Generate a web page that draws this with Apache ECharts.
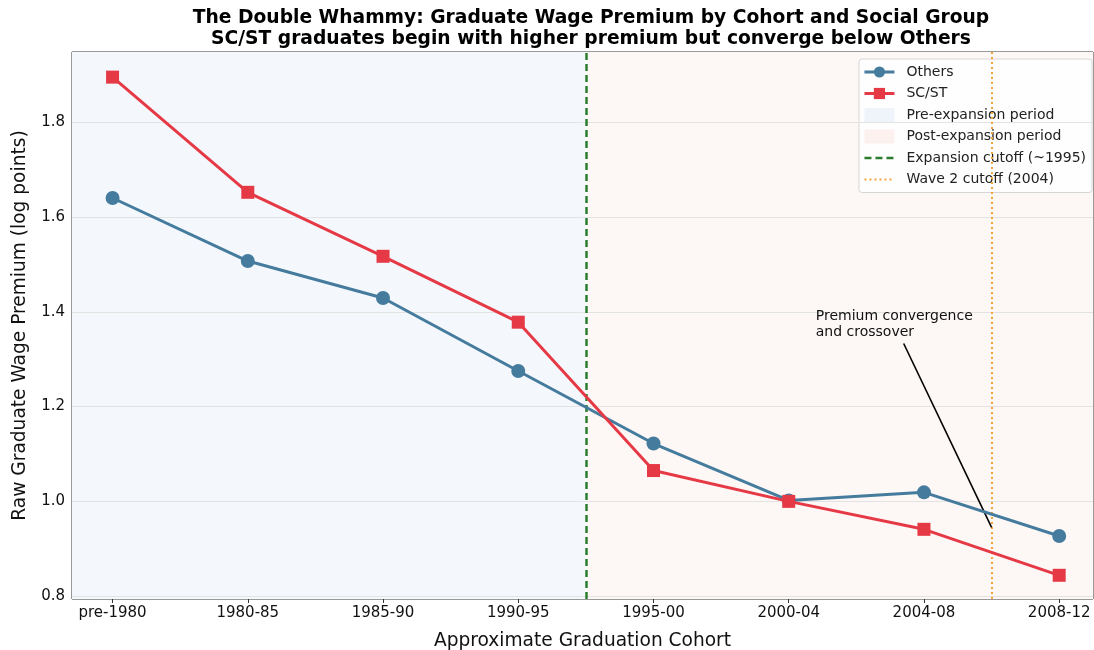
<!DOCTYPE html>
<html>
<head>
<meta charset="utf-8">
<script src="https://cdn.jsdelivr.net/npm/echarts@6/dist/echarts.min.js"></script>
<style>
  html, body { margin: 0; padding: 0; background: #fff; }
  #main { width: 1094px; height: 650px; }
</style>
</head>
<body>
<div id="main"></div>
<script>
// cohorts along the x axis (positions 0..7)
var cohorts = ['pre-1980', '1980-85', '1985-90', '1990-95', '1995-00', '2000-04', '2004-08', '2008-12'];
var others = [1.640, 1.507, 1.429, 1.275, 1.122, 1.002, 1.019, 0.927];
var scst   = [1.895, 1.652, 1.517, 1.378, 1.065, 1.000, 0.941, 0.844];
var yTicks = [0.8, 1.0, 1.2, 1.4, 1.6, 1.8];

var expansionCut = 3.5;   // ~1995
var wave2Cut = 6.5;       // 2004
var xMin = -0.3, xMax = 7.25;
var yMin = 0.794, yMax = 1.948;
var noteText = 'Premium convergence\nand crossover';
var noteAt = [5.2, 1.34];
var arrowFrom = [5.85, 1.333];
var arrowTo = [6.5, 0.945];

function pairs(vals) {
    return vals.map(function (v, i) { return [i, v]; });
}

var font = 'DejaVu Sans';
var myChart = echarts.init(document.getElementById('main'));

myChart.setOption({
    animation: false,
    textStyle: { fontFamily: font },
    title: {
        text: 'The Double Whammy: Graduate Wage Premium by Cohort and Social Group\nSC/ST graduates begin with higher premium but converge below Others',
        left: 586,
        top: 3,
        textAlign: 'center',
        textStyle: { fontFamily: font, fontSize: 18.7, fontWeight: 'bold', color: '#000', lineHeight: 21 }
    },
    grid: {
        left: 72, right: 1, top: 52, bottom: 51,
        outerBoundsMode: 'none',
        containLabel: false,
        show: true, borderColor: '#333', borderWidth: 1, backgroundColor: 'transparent'
    },
    legend: {
        orient: 'vertical',
        right: 2,
        top: 59,
        itemWidth: 30,
        itemHeight: 14,
        itemGap: 5.5,
        padding: [5, 6, 5, 4],
        backgroundColor: 'rgba(255,255,255,0.85)',
        borderColor: '#d6d6d6',
        borderWidth: 1,
        borderRadius: 3,
        textStyle: { fontFamily: font, fontSize: 14, color: '#222', padding: [0, 0, 0, 7], lineHeight: 16 },
        data: [
            { name: 'Others', lineStyle: { width: 3 } },
            { name: 'SC/ST', lineStyle: { width: 3 } },
            { name: 'Pre-expansion period', icon: 'rect' },
            { name: 'Post-expansion period', icon: 'rect' },
            { name: 'Expansion cutoff (~1995)', itemStyle: { opacity: 0 }, lineStyle: { width: 2.5 } },
            { name: 'Wave 2 cutoff (2004)', itemStyle: { opacity: 0 }, lineStyle: { width: 2 } }
        ]
    },
    xAxis: {
        type: 'value',
        min: xMin,
        max: xMax,
        name: 'Approximate Graduation Cohort',
        nameLocation: 'middle',
        nameGap: 33,
        nameTextStyle: { fontFamily: font, fontSize: 18.6, color: '#111' },
        axisLine: { show: false },
        splitLine: { show: false },
        axisTick: { show: true, length: 4, lineStyle: { color: '#333' }, customValues: [0, 1, 2, 3, 4, 5, 6, 7] },
        axisLabel: {
            customValues: [0, 1, 2, 3, 4, 5, 6, 7],
            formatter: function (v) { return cohorts[Math.round(v)]; },
            fontFamily: font, fontSize: 15, color: '#111', margin: 7
        }
    },
    yAxis: {
        type: 'value',
        min: yMin,
        max: yMax,
        name: 'Raw Graduate Wage Premium (log points)',
        nameLocation: 'middle',
        nameGap: 42,
        nameTextStyle: { fontFamily: font, fontSize: 18.6, color: '#111' },
        axisLine: { show: false },
        splitLine: { show: false },
        axisTick: { show: true, length: 4, lineStyle: { color: '#333' }, customValues: yTicks },
        axisLabel: {
            customValues: yTicks,
            formatter: function (v) { return v.toFixed(1); },
            fontFamily: font, fontSize: 15, color: '#111', margin: 7
        }
    },
    series: [
        {
            name: 'Pre-expansion period',
            type: 'line',
            data: [],
            color: '#eef4fa',
            itemStyle: { color: '#eef4fa', borderColor: '#e2eaf2' },
            markArea: {
                silent: true,
                itemStyle: { color: '#f4f8fc' },
                data: [[{ xAxis: xMin }, { xAxis: expansionCut }]]
            }
        },
        {
            name: 'Post-expansion period',
            type: 'line',
            data: [],
            color: '#fdf1f0',
            itemStyle: { color: '#fdf1f0', borderColor: '#f6e6e6' },
            markArea: {
                silent: true,
                itemStyle: { color: '#fdf8f6' },
                data: [[{ xAxis: expansionCut }, { xAxis: xMax }]]
            }
        },
        {
            name: 'grid',
            type: 'line',
            data: [],
            silent: true,
            markLine: {
                silent: true,
                symbol: 'none',
                label: { show: false },
                lineStyle: { color: '#e3e3e3', width: 1, type: 'solid' },
                data: yTicks.map(function (v) { return { yAxis: v }; })
            }
        },
        {
            name: 'Expansion cutoff (~1995)',
            type: 'line',
            data: [],
            color: '#2a7d2e',
            symbol: 'none',
            lineStyle: { color: '#2a7d2e', width: 2.5, type: [7, 4] },
            markLine: {
                silent: true,
                symbol: 'none',
                label: { show: false },
                lineStyle: { color: '#2a7d2e', width: 2.5, type: [7, 4] },
                data: [{ xAxis: expansionCut }]
            }
        },
        {
            name: 'Wave 2 cutoff (2004)',
            type: 'line',
            data: [],
            color: '#f8a23c',
            symbol: 'none',
            lineStyle: { color: '#f8a23c', width: 2, type: [2, 3] },
            markLine: {
                silent: true,
                symbol: 'none',
                label: { show: false },
                lineStyle: { color: '#f8a23c', width: 2, type: [2, 3] },
                data: [{ xAxis: wave2Cut }]
            }
        },
        {
            name: 'Others',
            type: 'line',
            data: pairs(others),
            color: '#457b9d',
            symbol: 'circle',
            symbolSize: 14,
            lineStyle: { width: 3, color: '#457b9d' },
            itemStyle: { color: '#457b9d' },
            z: 5
        },
        {
            name: 'SC/ST',
            type: 'line',
            data: pairs(scst),
            color: '#e63946',
            symbol: 'rect',
            symbolSize: 13,
            lineStyle: { width: 3, color: '#e63946' },
            itemStyle: { color: '#e63946' },
            z: 6
        },
        {
            name: 'note',
            type: 'line',
            data: [],
            silent: true,
            markLine: {
                silent: true,
                symbol: ['none', 'arrow'],
                symbolSize: [0, 10],
                label: { show: false },
                lineStyle: { color: '#000', width: 1.6, type: 'solid' },
                data: [[{ coord: arrowFrom }, { coord: arrowTo }]]
            },
            markPoint: {
                silent: true,
                symbol: 'circle',
                symbolSize: 0,
                label: {
                    show: true,
                    position: [0, 0],
                    align: 'left',
                    verticalAlign: 'bottom',
                    formatter: noteText,
                    fontFamily: font,
                    fontSize: 14,
                    lineHeight: 16,
                    color: '#111'
                },
                data: [{ coord: noteAt }]
            },
            z: 7
        }
    ]
});
</script>
</body>
</html>
